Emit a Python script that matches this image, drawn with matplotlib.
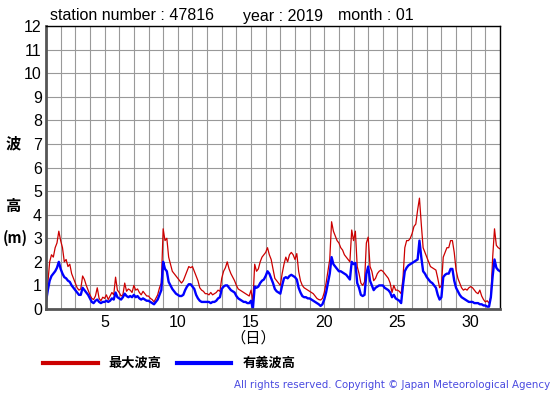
import numpy as np
import matplotlib
matplotlib.use('Agg')
import matplotlib.pyplot as plt

# 3-hourly readings, 8 per day, Jan 1 00h .. Jan 31 21h, plus Feb 1 00h
max_wave = [
    0.8, 1.1, 2.0, 2.3, 2.2, 2.6, 2.8, 3.3,
    2.9, 2.6, 2.0, 2.1, 1.8, 1.9, 1.5, 1.3,
    1.1, 0.9, 0.8, 0.85, 1.4, 1.25, 1.0, 0.8,
    0.6, 0.45, 0.4, 0.55, 0.9, 0.45, 0.35, 0.5,
    0.45, 0.6, 0.4, 0.55, 0.7, 0.6, 1.35, 0.8,
    0.7, 0.55, 0.6, 1.1, 0.75, 0.85, 0.8, 0.7,
    1.0, 0.8, 0.85, 0.7, 0.6, 0.75, 0.65, 0.55,
    0.55, 0.45, 0.4, 0.3, 0.45, 0.6, 0.9, 1.1,
    3.4, 2.9, 3.0, 2.2, 1.9, 1.6, 1.5, 1.4,
    1.3, 1.2, 1.1, 1.2, 1.4, 1.6, 1.8, 1.75,
    1.8, 1.6, 1.4, 1.2, 0.9, 0.8, 0.75, 0.65,
    0.65, 0.6, 0.7, 0.6, 0.65, 0.7, 0.8, 0.75,
    1.3, 1.6, 1.75, 2.0, 1.7, 1.5, 1.35, 1.2,
    1.0, 0.85, 0.8, 0.75, 0.7, 0.65, 0.6, 0.55,
    0.8, 0.3, 1.9, 1.6, 1.7, 2.0, 2.2, 2.3,
    2.4, 2.6, 2.3, 2.1, 1.7, 1.3, 1.2, 1.1,
    1.0, 1.5, 1.9, 2.2, 2.0, 2.3, 2.4, 2.3,
    2.1, 2.35, 1.6, 1.2, 1.0, 0.9, 0.85, 0.8,
    0.75, 0.7, 0.65, 0.55, 0.45, 0.4, 0.38, 0.45,
    0.7, 1.1, 1.6, 2.1, 3.7, 3.3, 3.1, 2.9,
    2.8, 2.6, 2.5, 2.3, 2.2, 2.1, 2.0, 3.35,
    2.9, 3.3, 1.8, 1.5, 1.1, 1.0, 1.15, 2.8,
    3.05, 1.8, 1.6, 1.2, 1.3, 1.5, 1.6, 1.65,
    1.6, 1.5, 1.4, 1.3, 1.1, 0.7, 1.0, 0.8,
    0.8, 0.75, 0.65, 1.3, 2.6, 2.9, 2.9, 3.0,
    3.2, 3.5, 3.6, 4.2, 4.7, 3.6, 2.6, 2.4,
    2.2, 2.0, 1.8, 1.75, 1.7, 1.65, 1.3, 0.9,
    1.0, 2.2, 2.4, 2.6, 2.6, 2.9, 2.9, 2.4,
    1.65, 1.3, 1.1, 0.9, 0.8, 0.85, 0.8, 0.9,
    0.95, 0.9, 0.8, 0.7, 0.65, 0.8, 0.55, 0.4,
    0.3, 0.35, 0.25, 0.5, 2.2, 3.4, 2.7, 2.6,
    2.55,
]
sig_wave = [
    0.3, 0.8, 1.2, 1.4, 1.5, 1.6, 1.75, 2.0,
    1.7, 1.5, 1.35, 1.3, 1.2, 1.15, 1.0, 0.9,
    0.8, 0.7, 0.6, 0.6, 0.9, 0.8, 0.7, 0.6,
    0.45, 0.3, 0.25, 0.35, 0.4, 0.3, 0.25, 0.3,
    0.3, 0.35, 0.3, 0.35, 0.45, 0.4, 0.7, 0.5,
    0.45, 0.4, 0.5, 0.65, 0.55, 0.5, 0.55, 0.5,
    0.6, 0.5, 0.55, 0.45, 0.4, 0.45, 0.4, 0.35,
    0.35, 0.3, 0.25, 0.2, 0.3, 0.4, 0.6, 0.8,
    2.0, 1.7, 1.6, 1.15, 1.0, 0.85, 0.75, 0.65,
    0.6, 0.55, 0.55, 0.6, 0.8, 0.95, 1.05, 1.05,
    0.95, 0.85, 0.6, 0.45, 0.35, 0.3, 0.3, 0.3,
    0.3, 0.3, 0.25, 0.3, 0.3, 0.35, 0.45, 0.5,
    0.85, 0.95, 1.0, 1.0, 0.9, 0.8, 0.75, 0.7,
    0.55, 0.45, 0.4, 0.35, 0.3, 0.3, 0.25, 0.25,
    0.35, 0.0, 0.95, 0.9, 0.95, 1.1, 1.2, 1.25,
    1.4, 1.6, 1.5, 1.3, 1.1, 0.85, 0.75, 0.7,
    0.65, 1.0, 1.3, 1.35, 1.3, 1.4, 1.45, 1.4,
    1.35, 1.25, 0.9, 0.7, 0.55, 0.5, 0.5, 0.45,
    0.45, 0.4, 0.35, 0.3, 0.25, 0.2, 0.13, 0.2,
    0.4, 0.7, 1.1, 1.5, 2.2, 1.9, 1.8, 1.7,
    1.6, 1.6, 1.55, 1.5, 1.45, 1.35, 1.25, 2.0,
    1.9, 1.95, 1.1, 0.9, 0.6, 0.55, 0.6, 1.5,
    1.8, 1.2, 1.0, 0.8, 0.9, 0.95, 1.0, 1.0,
    1.0, 0.9, 0.85, 0.8, 0.7, 0.5, 0.6, 0.45,
    0.4, 0.35, 0.25, 1.0, 1.6, 1.75, 1.85, 1.9,
    1.95, 2.0, 2.05, 2.1, 2.9, 2.2, 1.6, 1.5,
    1.35, 1.25, 1.15, 1.1, 1.0, 0.9, 0.6, 0.4,
    0.5, 1.35, 1.45, 1.5, 1.5, 1.7, 1.7, 1.2,
    0.9, 0.75, 0.6, 0.5, 0.45, 0.4, 0.35, 0.3,
    0.3, 0.3, 0.25, 0.25, 0.25, 0.2, 0.2, 0.15,
    0.15, 0.1, 0.1, 0.5, 1.4, 2.1, 1.75, 1.65,
    1.6,
]
days = 1 + np.arange(len(max_wave)) / 8.0

x_ticks = [5, 10, 15, 20, 25, 30]
y_ticks = list(range(0, 13))

plt.rcParams['font.family'] = ['Liberation Sans', 'DejaVu Sans']

fig = plt.figure(figsize=(5.55, 3.95), dpi=100)
ax = fig.add_axes([46 / 555, 1 - 309 / 395, 454 / 555, 283 / 395])

ax.plot(days, max_wave, color='#cc0000', lw=0.9)
ax.plot(days, sig_wave, color='#0000ff', lw=1.7)

ax.set_xlim(1, 32)
ax.set_ylim(0, 12)
ax.set_xticks(np.arange(1, 33), minor=True)
ax.set_xticks(x_ticks)
ax.set_yticks(y_ticks)
ax.grid(True, which='both', color='#999999', lw=0.8)
ax.tick_params(which='both', length=0, labelsize=11.5)
ax.tick_params(axis='x', pad=4)
ax.tick_params(axis='y', pad=3)

for side in ['top', 'right']:
    ax.spines[side].set_color('black')
    ax.spines[side].set_linewidth(1)
for side in ['left', 'bottom']:
    ax.spines[side].set_color('#555555')
    ax.spines[side].set_linewidth(2)

fig.text(50 / 555, 1 - 16 / 395, 'station number : 47816', fontsize=11.5, va='center')
fig.text(243 / 555, 1 - 16 / 395, 'year : 2019', fontsize=11.5, va='center')
fig.text(338 / 555, 1 - 16 / 395, 'month : 01', fontsize=11.5, va='center')

jp = ['Noto Sans CJK JP', 'DejaVu Sans']
fig.text(13 / 555, 1 - 143 / 395, '波', family=jp, fontsize=11, fontweight='bold', ha='center', va='center')
fig.text(13 / 555, 1 - 206 / 395, '高', family=jp, fontsize=11, fontweight='bold', ha='center', va='center')
fig.text(15 / 555, 1 - 238 / 395, '(m)', family=jp, fontsize=10.5, fontweight='bold', ha='center', va='center')
fig.text(253 / 555, 1 - 338 / 395, '（日）', family=jp, fontsize=11, ha='center', va='center')

fig.add_artist(plt.Line2D([43 / 555, 98 / 555], [1 - 363 / 395] * 2, color='#cc0000', lw=3))
fig.text(108 / 555, 1 - 363 / 395, '最大波高', family=jp, fontsize=9.5, fontweight='bold', va='center')
fig.add_artist(plt.Line2D([177 / 555, 231 / 555], [1 - 363 / 395] * 2, color='#0000ff', lw=3))
fig.text(243 / 555, 1 - 363 / 395, '有義波高', family=jp, fontsize=9.5, fontweight='bold', va='center')

fig.text(550 / 555, 1 - 385 / 395, 'All rights reserved. Copyright © Japan Meteorological Agency',
         family='DejaVu Sans', fontsize=7.4, color='#4a4ae0', ha='right', va='center')

fig.savefig('out.png', dpi=100)
